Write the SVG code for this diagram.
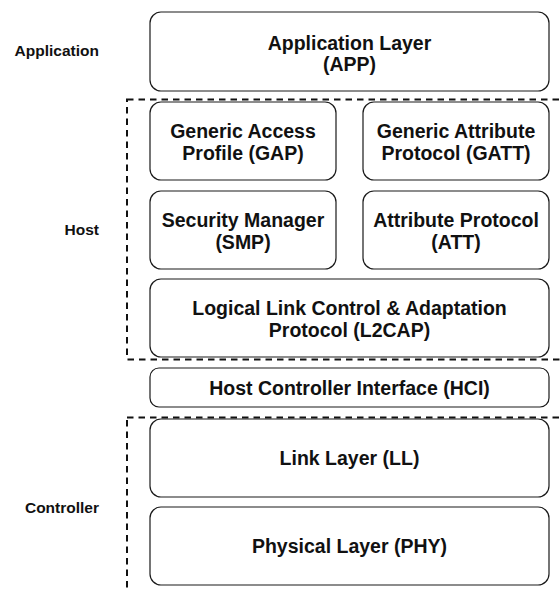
<svg xmlns="http://www.w3.org/2000/svg" width="560" height="591" viewBox="0 0 560 591">
  <style>
    .box { fill: #ffffff; stroke: #1a1a1a; stroke-width: 1.2; }
    .zone { fill: none; stroke: #111111; stroke-width: 2; stroke-dasharray: 6.5 5; }
    .t { font-family: "Liberation Sans", Arial, sans-serif; font-weight: bold; font-size: 19.5px; fill: #111111; text-anchor: middle; }
    .side { font-family: "Liberation Sans", Arial, sans-serif; font-weight: bold; font-size: 15.5px; fill: #111111; text-anchor: end; }
  </style>
  <rect width="560" height="591" fill="#ffffff"/>

  <!-- dashed group outlines -->
  <g id="zones">
    <rect class="zone" x="127" y="99.5" width="460" height="260"/>
    <rect class="zone" x="127" y="417.5" width="460" height="200"/>
  </g>

  <!-- side labels -->
  <g id="labels">
    <text class="side" x="99" y="56">Application</text>
    <text class="side" x="99" y="235">Host</text>
    <text class="side" x="99" y="513">Controller</text>
  </g>

  <g id="app">
    <rect class="box" x="150" y="12" width="399" height="79" rx="11"/>
    <text class="t" x="349.5" y="49.5">Application Layer</text>
    <text class="t" x="349.5" y="71">(APP)</text>
  </g>

  <g id="gap">
    <rect class="box" x="150" y="102" width="186" height="78" rx="11"/>
    <text class="t" x="243" y="138">Generic Access</text>
    <text class="t" x="243" y="160">Profile (GAP)</text>
  </g>

  <g id="gatt">
    <rect class="box" x="363" y="102" width="186" height="78" rx="11"/>
    <text class="t" x="456" y="138">Generic Attribute</text>
    <text class="t" x="456" y="160">Protocol (GATT)</text>
  </g>

  <g id="smp">
    <rect class="box" x="150" y="191" width="186" height="78" rx="11"/>
    <text class="t" x="243" y="227">Security Manager</text>
    <text class="t" x="243" y="249">(SMP)</text>
  </g>

  <g id="att">
    <rect class="box" x="363" y="191" width="186" height="78" rx="11"/>
    <text class="t" x="456" y="227">Attribute Protocol</text>
    <text class="t" x="456" y="249">(ATT)</text>
  </g>

  <g id="l2cap">
    <rect class="box" x="150" y="279" width="399" height="78" rx="11"/>
    <text class="t" x="349.5" y="315">Logical Link Control &amp; Adaptation</text>
    <text class="t" x="349.5" y="337">Protocol (L2CAP)</text>
  </g>

  <g id="hci">
    <rect class="box" x="150" y="368" width="399" height="39" rx="9"/>
    <text class="t" x="349.5" y="394.5">Host Controller Interface (HCI)</text>
  </g>

  <g id="ll">
    <rect class="box" x="150" y="419" width="399" height="78" rx="11"/>
    <text class="t" x="349.5" y="465">Link Layer (LL)</text>
  </g>

  <g id="phy">
    <rect class="box" x="150" y="507" width="399" height="78" rx="11"/>
    <text class="t" x="349.5" y="553">Physical Layer (PHY)</text>
  </g>

  <!-- layers stack directly; no connectors -->
  <g id="connectors"/>
</svg>
